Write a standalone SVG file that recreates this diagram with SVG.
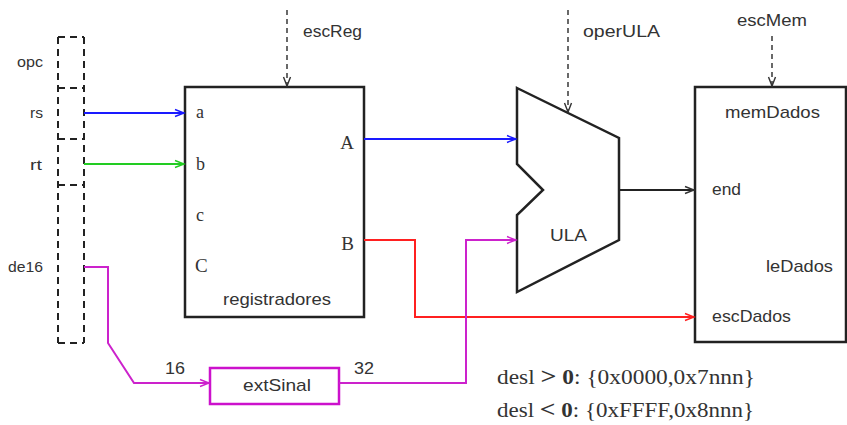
<svg xmlns="http://www.w3.org/2000/svg" width="847" height="425" viewBox="0 0 847 425">
<style>
.sans{font-family:"Liberation Sans",Arial,sans-serif;font-size:17px;fill:#333}
.lab{font-family:"Liberation Sans",Arial,sans-serif;font-size:14px;fill:#333}
.serif{font-family:"Liberation Serif","Times New Roman",serif;fill:#333}
.box{fill:none;stroke:#222;stroke-width:2.5}
.w{fill:none;stroke-width:2}
.dash{fill:none;stroke:#444;stroke-width:1.6;stroke-dasharray:5,4}
</style>
<defs>
<marker id="ab" markerWidth="12" markerHeight="10" refX="10" refY="5" orient="auto" markerUnits="userSpaceOnUse"><path d="M1,1.5 L10,5 L1,8.5" fill="none" stroke="#1a1aff" stroke-width="1.4"/></marker>
<marker id="ag" markerWidth="12" markerHeight="10" refX="10" refY="5" orient="auto" markerUnits="userSpaceOnUse"><path d="M1,1.5 L10,5 L1,8.5" fill="none" stroke="#22cc22" stroke-width="1.4"/></marker>
<marker id="ar" markerWidth="12" markerHeight="10" refX="10" refY="5" orient="auto" markerUnits="userSpaceOnUse"><path d="M1,1.5 L10,5 L1,8.5" fill="none" stroke="#ff2020" stroke-width="1.4"/></marker>
<marker id="am" markerWidth="12" markerHeight="10" refX="10" refY="5" orient="auto" markerUnits="userSpaceOnUse"><path d="M1,1.5 L10,5 L1,8.5" fill="none" stroke="#cc22cc" stroke-width="1.4"/></marker>
<marker id="ak" markerWidth="12" markerHeight="10" refX="10" refY="5" orient="auto" markerUnits="userSpaceOnUse"><path d="M1,1.5 L10,5 L1,8.5" fill="none" stroke="#333" stroke-width="1.4"/></marker>
</defs>

<g id="instrucao">
<path d="M58,37 V343 M84,37 V343 M58,37 H84 M58,343 H84 M58,88 H84 M58,139 H84 M58,185 H84" fill="none" stroke="#222" stroke-width="2" stroke-dasharray="7,5"/>
<text class="lab" x="17" y="67" textLength="26" lengthAdjust="spacingAndGlyphs">opc</text>
<text class="lab" x="30" y="118" textLength="13" lengthAdjust="spacingAndGlyphs">rs</text>
<text class="lab" x="30" y="170" textLength="12" lengthAdjust="spacingAndGlyphs">rt</text>
<text class="lab" x="8" y="272" textLength="35" lengthAdjust="spacingAndGlyphs">de16</text>
</g>

<g id="registradores">
<rect class="box" x="185" y="87" width="179" height="230"/>
<text class="serif" x="196" y="118" font-size="18">a</text>
<text class="serif" x="196" y="170" font-size="18">b</text>
<text class="serif" x="196" y="221" font-size="18">c</text>
<text class="serif" x="195" y="272" font-size="19">C</text>
<text class="serif" x="354" y="149" font-size="19" text-anchor="end">A</text>
<text class="serif" x="354" y="250" font-size="19" text-anchor="end">B</text>
<text class="sans" x="223" y="305" textLength="108" lengthAdjust="spacingAndGlyphs">registradores</text>
</g>

<g id="ula">
<polygon class="box" points="517,88 619,138 619,240 517,292 517,215 543,190 517,164"/>
<text class="sans" x="550" y="241" textLength="37" lengthAdjust="spacingAndGlyphs">ULA</text>
</g>

<g id="memDados">
<rect class="box" x="695" y="87" width="151" height="255"/>
<text class="sans" x="725" y="118" textLength="95" lengthAdjust="spacingAndGlyphs">memDados</text>
<text class="sans" x="712" y="195" textLength="29" lengthAdjust="spacingAndGlyphs">end</text>
<text class="sans" x="766" y="272" textLength="67" lengthAdjust="spacingAndGlyphs">leDados</text>
<text class="sans" x="712" y="322" textLength="79" lengthAdjust="spacingAndGlyphs">escDados</text>
</g>

<g id="extSinal">
<rect x="210" y="368" width="129" height="36" fill="none" stroke="#cc11cc" stroke-width="2.5"/>
<text class="sans" x="243" y="391" textLength="68" lengthAdjust="spacingAndGlyphs">extSinal</text>
</g>

<g id="connectors">
<path class="w" d="M84,113 H184" stroke="#1a1aff" marker-end="url(#ab)"/>
<path class="w" d="M84,164 H184" stroke="#22cc22" marker-end="url(#ag)"/>
<path class="w" d="M364,139 H516" stroke="#1a1aff" marker-end="url(#ab)"/>
<path class="w" d="M364,240 H415 V317 H694" stroke="#ff2020" marker-end="url(#ar)"/>
<path class="w" d="M619,190 H694" stroke="#222" stroke-width="1.6" marker-end="url(#ak)"/>
<path class="w" d="M84,267 H108 V343 L134,383 H209" stroke="#cc22cc" marker-end="url(#am)"/>
<path class="w" d="M339,383 H466 V240 H516" stroke="#cc22cc" marker-end="url(#am)"/>
<path class="dash" d="M287,10 V86" marker-end="url(#ak)"/>
<path class="dash" d="M568,10 V112" marker-end="url(#ak)"/>
<path class="dash" d="M772,36 V86" marker-end="url(#ak)"/>
<text class="sans" x="303" y="37" textLength="59" lengthAdjust="spacingAndGlyphs">escReg</text>
<text class="sans" x="583" y="37" textLength="77" lengthAdjust="spacingAndGlyphs">operULA</text>
<text class="sans" x="737" y="26" textLength="70" lengthAdjust="spacingAndGlyphs">escMem</text>
<text class="sans" x="165" y="374" textLength="20" lengthAdjust="spacingAndGlyphs">16</text>
<text class="sans" x="354" y="374" textLength="20" lengthAdjust="spacingAndGlyphs">32</text>
</g>

<g id="notas">
<text class="serif" x="497" y="384" font-size="20" textLength="258" lengthAdjust="spacingAndGlyphs">desl <tspan font-weight="bold" font-size="24">&gt;</tspan> <tspan font-weight="bold">0</tspan>:  {0x0000,0x7nnn}</text>
<text class="serif" x="497" y="417" font-size="20" textLength="257" lengthAdjust="spacingAndGlyphs">desl <tspan font-weight="bold" font-size="24">&lt;</tspan> <tspan font-weight="bold">0</tspan>:  {0xFFFF,0x8nnn}</text>
</g>
</svg>
